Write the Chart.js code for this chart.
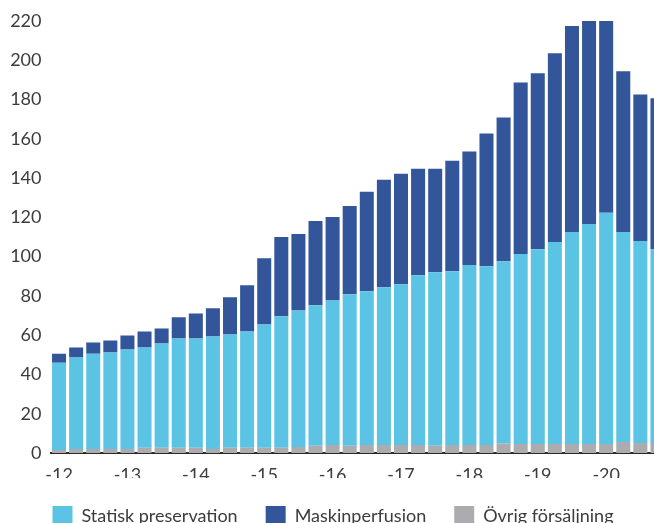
<!DOCTYPE html>
<html>
<head>
<meta charset="utf-8">
<script src="https://cdn.jsdelivr.net/npm/chart.js@4"></script>
<style>
  html, body { margin: 0; padding: 0; background: #fff; overflow: hidden; }
  #wrap { width: 654px; height: 523px; overflow: hidden; }
</style>
</head>
<body>
<div id="wrap">
  <canvas id="salesChart" width="680" height="536"></canvas>
</div>
<script>
// quarters 2012 Q1 .. 2020 Q4
const quarters = [
  "2012 K1", "2012 K2", "2012 K3", "2012 K4",
  "2013 K1", "2013 K2", "2013 K3", "2013 K4",
  "2014 K1", "2014 K2", "2014 K3", "2014 K4",
  "2015 K1", "2015 K2", "2015 K3", "2015 K4",
  "2016 K1", "2016 K2", "2016 K3", "2016 K4",
  "2017 K1", "2017 K2", "2017 K3", "2017 K4",
  "2018 K1", "2018 K2", "2018 K3", "2018 K4",
  "2019 K1", "2019 K2", "2019 K3", "2019 K4",
  "2020 K1", "2020 K2", "2020 K3", "2020 K4"
];
const yearTicks = ["-12", "-13", "-14", "-15", "-16", "-17", "-18", "-19", "-20"];

const ovrig = [
  1.5, 2.0, 2.0, 2.0, 2.0, 2.7, 2.7, 2.7, 2.7, 2.0, 2.7, 2.7,
  2.7, 2.7, 3.1, 3.7, 4.1, 3.7, 4.1, 4.1, 4.1, 4.1, 3.7, 4.1,
  4.1, 4.1, 4.8, 4.6, 4.6, 4.6, 4.6, 4.6, 4.6, 5.6, 5.1, 5.1
];
const statisk = [
  44.5, 46.6, 48.6, 49.2, 50.7, 51.0, 53.1, 55.6, 55.6, 57.3, 57.7, 59.2,
  62.8, 66.9, 69.5, 71.5, 73.6, 77.1, 78.3, 80.3, 81.8, 86.4, 88.4, 88.5,
  91.6, 91.0, 92.9, 96.7, 99.2, 102.8, 107.9, 112.0, 117.7, 106.9, 102.8, 98.7
];
const maskin = [
  4.6, 5.1, 5.7, 6.1, 7.1, 8.2, 7.6, 10.8, 12.8, 14.4, 18.9, 23.5,
  33.7, 40.4, 38.9, 43.0, 42.5, 45.0, 50.6, 54.7, 56.3, 54.3, 52.7, 56.2,
  57.8, 67.6, 73.1, 87.4, 89.6, 96.2, 104.9, 105.4, 99.7, 81.9, 74.7, 76.8
];

// legend shows Statisk, Maskin, Övrig but stacking goes Övrig at the bottom
const legendRank = [2, 0, 1];

window.addEventListener("DOMContentLoaded", () => {
  const font = { family: "Lato, 'Open Sans', sans-serif", size: 18 };
  const textColor = "#3c3c3c";

  new Chart(document.getElementById("salesChart").getContext("2d"), {
    type: "bar",
    data: {
      labels: quarters,
      datasets: [
        { label: "Övrig försäljning", data: ovrig, backgroundColor: "#acacb0" },
        { label: "Statisk preservation", data: statisk, backgroundColor: "#5bc3e3" },
        { label: "Maskinperfusion", data: maskin, backgroundColor: "#33569a" }
      ]
    },
    options: {
      responsive: false,
      animation: false,
      layout: { padding: { top: 21, right: 14, left: 0, bottom: 0 } },
      datasets: {
        bar: { barPercentage: 0.82, categoryPercentage: 1, borderWidth: 0 }
      },
      plugins: {
        tooltip: { enabled: false },
        legend: {
          position: "bottom",
          labels: {
            font: font,
            color: textColor,
            boxWidth: 20,
            boxHeight: 20,
            padding: 28,
            sort: (a, b) => legendRank[a.datasetIndex] - legendRank[b.datasetIndex]
          }
        }
      },
      scales: {
        x: {
          stacked: true,
          grid: { display: false, drawTicks: false },
          border: { display: true, color: "#2a2a2a", width: 2 },
          ticks: {
            font: font,
            color: textColor,
            padding: 11,
            autoSkip: false,
            maxRotation: 0,
            callback: function(value, index) {
              return index % 4 === 0 ? yearTicks[index / 4] : "";
            }
          },
          // keep the legend close under the year labels
          afterFit: (axis) => { axis.height = 25; }
        },
        y: {
          stacked: true,
          min: 0,
          max: 220,
          grid: { display: false, drawTicks: false },
          border: { display: false },
          ticks: { font: font, color: textColor, stepSize: 20, padding: 9 },
          afterFit: (axis) => { axis.width = 50.5; }
        }
      }
    }
  });
});
</script>
</body>
</html>
